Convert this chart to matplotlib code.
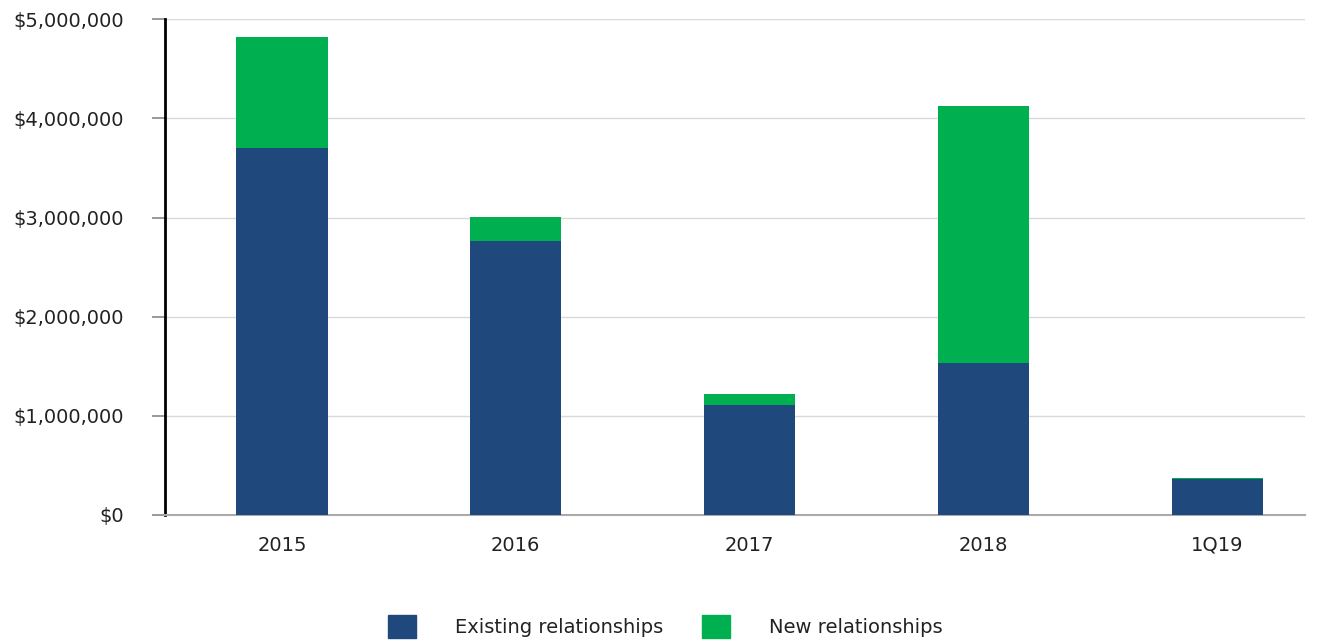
import matplotlib.pyplot as plt
from matplotlib.patches import Patch
from matplotlib.ticker import FuncFormatter

# data
periods = ['2015', '2016', '2017', '2018', '1Q19']
existing = [3700000, 2760000, 1110000, 1530000, 360000]
new = [1120000, 245000, 110000, 2590000, 10000]

navy = '#1f497d'
green = '#00af50'

plt.rcParams['font.family'] = ['DejaVu Sans']

fig = plt.figure(figsize=(13.31, 6.41), dpi=100)
ax = fig.add_axes([0.124, 0.1966, 0.8565, 0.7734])

x = range(len(periods))
ax.bar(x, existing, width=0.39, color=navy, zorder=3)
ax.bar(x, new, width=0.39, bottom=existing, color=green, zorder=3)

ax.set_ylim(0, 5000000)
ax.set_xlim(-0.5, 4.376)
ax.set_yticks(range(0, 5000001, 1000000))
ax.yaxis.set_major_formatter(FuncFormatter(lambda v, p: '${:,.0f}'.format(v)))
ax.set_xticks(list(x))
ax.set_xticklabels(periods)

ax.grid(axis='y', color='#d9d9d9', linewidth=1, zorder=0)
ax.tick_params(axis='y', length=9.5, color='#888888', width=1.2, pad=20, labelsize=14, labelcolor='#222222')
ax.tick_params(axis='x', length=0, pad=15, labelsize=14, labelcolor='#222222')

for s in ['top', 'right']:
    ax.spines[s].set_visible(False)
ax.spines['left'].set_color('black')
ax.spines['left'].set_linewidth(2)
ax.spines['bottom'].set_color('#aaaaaa')
ax.spines['bottom'].set_linewidth(1.5)

handles = [Patch(color=navy, label='Existing relationships'),
           Patch(color=green, label='New relationships')]
fig.legend(handles=handles, loc='center', bbox_to_anchor=(0.5, 0.022), ncol=2,
           frameon=False, fontsize=14, handlelength=1.45, handleheight=1.45,
           handletextpad=2.0, columnspacing=2.0, labelcolor='#222222')

fig.savefig('out.png', dpi=100)
